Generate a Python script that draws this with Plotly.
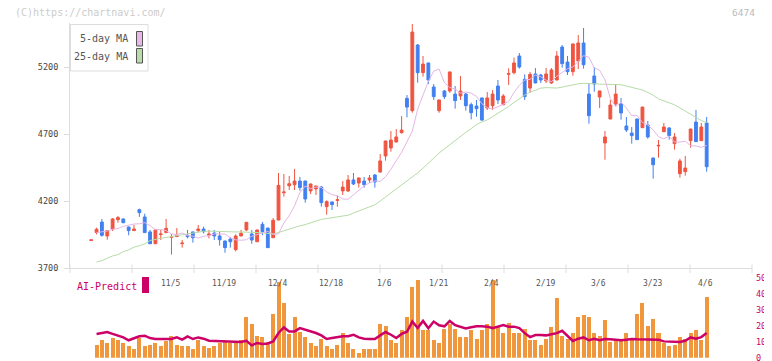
import plotly.graph_objects as go

# ---------------- data ----------------
idx = list(range(116))
tick_labels = ["11/5", "11/19", "12/4", "12/18", "1/6", "1/21", "2/4", "2/19", "3/6", "3/23", "4/6"]
tick_pos = [15, 25, 35, 45, 55, 65, 75, 85, 95, 105, 115]

opens = [3905, 3964, 4043, 3939, 3991, 4061, 4066, 4006, 3979, 4135, 4081, 3969, 3881, 3950, 3964, 3930,
         3934, 3882, 3944, 3969, 3979, 3991, 3944, 3961, 3939, 3901, 3916, 3837, 3939, 3984, 3954, 3896,
         4026, 3998, 3926, 4058, 4262, 4314, 4322, 4349, 4349, 4275, 4290, 4304, 4158, 4193, 4205, 4275,
         4275, 4357, 4334, 4349, 4357, 4394, 4416, 4536, 4596, 4640, 4710, 4966, 4874, 5364, 5158, 5230,
         5051, 4874, 5021, 5021, 4998, 4984, 4998, 4919, 4909, 4969, 4894, 4911, 5058, 4919, 5146, 5158,
         5282, 5108, 5043, 5148, 5140, 5096, 5081, 5103, 5349, 5237, 5165, 5245, 5379, 4998, 5133, 4976,
         4633, 4812, 4924, 4924, 4760, 4707, 4812, 4747, 4767, 4521, 4611, 4717, 4745, 4628, 4404, 4419,
         4650, 4789, 4650, 4782]
highs = [3910, 4001, 4066, 3979, 4073, 4088, 4070, 4008, 4021, 4143, 4105, 3984, 3986, 3984, 4066, 3954,
         3998, 3909, 3984, 3971, 4021, 4008, 3984, 3984, 3971, 3906, 3930, 3951, 3984, 4043, 3984, 3986,
         4043, 4000, 4073, 4409, 4401, 4387, 4439, 4379, 4351, 4329, 4314, 4312, 4205, 4195, 4240, 4349,
         4394, 4409, 4374, 4379, 4394, 4401, 4551, 4650, 4722, 4737, 4834, 4991, 5521, 5372, 5282, 5232,
         5073, 4956, 5028, 5165, 5058, 5133, 5008, 4934, 4954, 4971, 5013, 5028, 5103, 4998, 5190, 5270,
         5304, 5145, 5163, 5192, 5148, 5192, 5192, 5319, 5364, 5282, 5374, 5439, 5491, 5081, 5200, 5023,
         4722, 4954, 5073, 4969, 4827, 4752, 4814, 4903, 4797, 4523, 4655, 4782, 4752, 4707, 4516, 4536,
         4739, 4879, 4782, 4827]
lows = [3905, 3951, 3934, 3911, 3976, 4038, 4035, 3944, 3978, 4081, 3964, 3881, 3879, 3909, 3962, 3800,
        3932, 3852, 3921, 3889, 3964, 3959, 3921, 3909, 3867, 3814, 3852, 3824, 3937, 3976, 3881, 3894,
        3944, 3850, 3924, 4056, 4232, 4282, 4282, 4277, 4188, 4252, 4245, 4158, 4098, 4133, 4158, 4245,
        4267, 4319, 4300, 4300, 4334, 4300, 4414, 4501, 4568, 4638, 4702, 4824, 4859, 5083, 5128, 5073,
        4954, 4859, 4961, 5008, 4889, 4954, 4874, 4809, 4829, 4799, 4879, 4879, 4924, 4914, 5066, 5145,
        5188, 4954, 5008, 5079, 5081, 5081, 5073, 5101, 5195, 5140, 5135, 5185, 5188, 4777, 5016, 4894,
        4508, 4810, 4909, 4807, 4715, 4628, 4656, 4745, 4665, 4367, 4523, 4715, 4658, 4583, 4374, 4389,
        4598, 4641, 4648, 4419]
closes = [3910, 3989, 3944, 3979, 4066, 4076, 4038, 3979, 3991, 4113, 3964, 3881, 3984, 3954, 3996, 3934,
          3946, 3886, 3934, 3926, 3991, 3971, 3954, 3939, 3911, 3852, 3896, 3939, 3959, 4041, 3909, 3984,
          3971, 3852, 4056, 4317, 4267, 4329, 4349, 4300, 4215, 4327, 4312, 4188, 4195, 4173, 4209, 4304,
          4357, 4327, 4372, 4322, 4372, 4342, 4499, 4648, 4655, 4678, 4729, 4901, 5461, 5158, 5222, 5103,
          4979, 4954, 4979, 5163, 4949, 5021, 4911, 4859, 4889, 4804, 4969, 4998, 4954, 4984, 5150, 5230,
          5200, 4979, 5145, 5081, 5103, 5148, 5178, 5282, 5225, 5165, 5372, 5379, 5217, 4837, 5073, 5021,
          4678, 4916, 4998, 4857, 4730, 4688, 4658, 4901, 4678, 4471, 4615, 4752, 4688, 4678, 4499, 4446,
          4737, 4643, 4752, 4456]

ma5 = [None, 3964, 3969, 3976, 3989, 3995, 4011, 4021, 4028, 4030, 4039, 4017, 3986, 3987, 3979, 3955,
       3949, 3962, 3942, 3938, 3924, 3936, 3941, 3955, 3956, 3953, 3925, 3910, 3907, 3911, 3937, 3949,
       3966, 3973, 3951, 3954, 4036, 4092, 4164, 4263, 4312, 4292, 4304, 4301, 4268, 4247, 4239, 4215,
       4213, 4247, 4274, 4313, 4336, 4350, 4347, 4381, 4437, 4503, 4564, 4642, 4722, 4885, 4985, 5094,
       5169, 5185, 5083, 5047, 5036, 5005, 5013, 5005, 4981, 4926, 4897, 4886, 4904, 4923, 4942, 5011,
       5063, 5103, 5108, 5140, 5127, 5102, 5091, 5131, 5158, 5187, 5200, 5244, 5285, 5272, 5194, 5176,
       5105, 4965, 4905, 4937, 4894, 4836, 4838, 4786, 4767, 4731, 4679, 4664, 4683, 4640, 4640, 4646,
       4613, 4610, 4601, 4615]
ma25 = [None, 3745, 3755, 3773, 3790, 3800, 3822, 3835, 3856, 3866, 3880, 3905, 3916, 3922, 3928, 3935,
        3942, 3948, 3955, 3962, 3968, 3974, 3975, 3973, 3970, 3970, 3969, 3969, 3969, 3968, 3967, 3965,
        3963, 3958, 3954, 3965, 3978, 3993, 4006, 4015, 4024, 4035, 4050, 4063, 4070, 4078, 4084, 4089,
        4094, 4110, 4125, 4140, 4155, 4172, 4200, 4230, 4255, 4288, 4320, 4350, 4378, 4410, 4445, 4480,
        4520, 4558, 4590, 4620, 4652, 4685, 4712, 4740, 4770, 4790, 4805, 4830, 4855, 4878, 4905, 4935,
        4965, 4990, 5012, 5030, 5042, 5046, 5045, 5043, 5050, 5060, 5070, 5075, 5078, 5078, 5075, 5072,
        5071, 5070, 5069, 5068, 5058, 5048, 5038, 5028, 5010, 4990, 4962, 4948, 4935, 4918, 4895, 4870,
        4845, 4825, 4800, 4785]

volume = [None, 8.2, 11.2, 9.3, 12.8, 11.8, 9.3, 7.6, 5.5, 12.8, 8.0, 8.6, 9.3, 8.0, 10.7, 14.3,
          8.6, 7.4, 7.4, 6.1, 11.8, 8.0, 6.7, 8.0, 9.3, 10.5, 9.3, 10.3, 11.2, 26.3, 21.3, 14.3,
          13.1, 10.5, 27.6, 47.8, 34.7, 15.0, 25.7, 16.8, 13.1, 9.9, 7.4, 12.4, 8.0, 5.5, 8.6, 16.2,
          9.3, 5.5, 3.6, 6.1, 6.1, 6.1, 21.9, 20.6, 11.2, 9.9, 17.5, 25.7, 45.2, 49.6, 17.5, 18.1,
          11.2, 9.3, 18.7, 21.3, 18.7, 13.7, 13.1, 17.5, 12.4, 17.5, 21.3, 49.6, 19.4, 16.2, 22.5, 16.2,
          16.2, 18.7, 11.2, 11.8, 8.6, 12.4, 20.0, 38.3, 14.3, 12.4, 15.6, 26.3, 27.0, 26.3, 15.6, 14.3,
          24.4, 10.5, 12.4, 12.4, 16.2, 12.4, 28.2, 35.1, 20.6, 25.0, 16.2, 9.9, 7.4, 8.6, 13.1, 12.4,
          16.2, 18.1, 11.8, 38.9]
ai_predict = [None, 15.0, 15.6, 16.2, 15.0, 14.1, 12.8, 11.0, 12.4, 13.5, 13.9, 12.4, 11.8, 11.8, 11.8, 11.8,
              12.8, 11.4, 13.5, 11.8, 12.8, 12.0, 10.7, 10.5, 10.5, 10.1, 10.1, 9.9, 9.9, 10.7, 7.8, 9.3,
              8.6, 9.0, 10.3, 15.6, 19.1, 16.6, 16.6, 18.7, 17.7, 16.6, 15.6, 14.1, 11.8, 12.4, 13.1, 13.5,
              13.5, 14.5, 12.8, 12.0, 11.8, 11.8, 14.1, 16.2, 14.5, 12.4, 15.0, 16.4, 22.8, 18.7, 23.2, 18.6,
              22.8, 20.5, 19.8, 23.2, 20.5, 19.2, 18.4, 19.2, 19.8, 19.8, 19.6, 18.7, 19.8, 20.6, 19.6, 19.6,
              18.7, 15.5, 13.0, 14.3, 14.3, 14.1, 14.8, 15.5, 17.0, 14.1, 10.6, 12.0, 12.8, 11.0, 12.0, 11.0,
              11.8, 11.6, 11.4, 11.0, 11.4, 11.8, 11.6, 11.6, 11.4, 11.4, 11.4, 10.3, 10.3, 10.3, 9.9, 10.7,
              12.8, 12.0, 13.0, 15.6]

price_ticks = [3700, 4200, 4700, 5200]
vol_ticks = [0, 10, 20, 30, 40, 50]

# ---------------- styling / layout helpers ----------------
W, H = 772, 361
OFF = 8            # the page body adds an 8px offset
L = 70 - OFF
PW = 682
R = W - L - PW
MONO = "DejaVu Sans Mono"
RED = "#f05541"
BLUE = "#4080f0"
PINK = "#e6b6e6"
GREEN = "#b6dca6"
MAGENTA = "#cc0066"
ORANGE = "#f0963c"


def px(xp):
    return (xp - OFF - L) / PW


def py(yp):
    return 1 - (yp - OFF) / H


fig = go.Figure()
fig.add_trace(go.Scatter(x=idx, y=ma25, mode="lines", line=dict(color=GREEN, width=1),
                         hoverinfo="skip", connectgaps=False))
fig.add_trace(go.Scatter(x=idx, y=ma5, mode="lines", line=dict(color=PINK, width=1),
                         hoverinfo="skip", connectgaps=False))
fig.add_trace(go.Candlestick(
    x=idx, open=opens, high=highs, low=lows, close=closes,
    increasing=dict(fillcolor=RED, line=dict(color=RED, width=1)),
    decreasing=dict(fillcolor=BLUE, line=dict(color=BLUE, width=1)),
    whiskerwidth=0,
))
fig.add_trace(go.Bar(x=idx, y=volume, marker=dict(color=ORANGE, line=dict(width=0)),
                     width=0.75, xaxis="x2", yaxis="y2"))
fig.add_trace(go.Scatter(x=idx, y=ai_predict, mode="lines", line=dict(color=MAGENTA, width=2.5),
                         xaxis="x2", yaxis="y2"))

shapes = []
# bottom axis tick marks (11 equal intervals)
for k in range(12):
    shapes.append(dict(type="line", xref="x domain", yref="paper", x0=k / 11, x1=k / 11,
                       y0=py(264.5), y1=py(273), line=dict(color="#dddddd", width=1)))
# legend box
shapes.append(dict(type="rect", xref="paper", yref="paper", x0=px(70.5), x1=px(148), y0=py(71), y1=py(24.5),
                   line=dict(color="#dddddd", width=1), fillcolor="white", layer="above"))
shapes.append(dict(type="rect", xref="paper", yref="paper", x0=px(136.5), x1=px(142.5), y0=py(46), y1=py(31.5),
                   line=dict(color="#555555", width=1), fillcolor="#e8b8e8", layer="above"))
shapes.append(dict(type="rect", xref="paper", yref="paper", x0=px(136.5), x1=px(142.5), y0=py(63), y1=py(48.5),
                   line=dict(color="#555555", width=1), fillcolor="#b8dcaa", layer="above"))
# AI-Predict marker
shapes.append(dict(type="rect", xref="paper", yref="paper", x0=px(142), x1=px(149), y0=py(293), y1=py(277),
                   line=dict(width=0), fillcolor=MAGENTA, layer="above"))

annotations = [
    dict(text="5-day MA", x=px(130), y=py(39), xref="paper", yref="paper", xanchor="right", yanchor="middle",
         showarrow=False, font=dict(family=MONO, size=10, color="#555555")),
    dict(text="25-day MA", x=px(130), y=py(56), xref="paper", yref="paper", xanchor="right", yanchor="middle",
         showarrow=False, font=dict(family=MONO, size=10, color="#555555")),
    dict(text="AI-Predict", x=px(75), y=py(286), xref="paper", yref="paper", xanchor="left", yanchor="middle",
         showarrow=False, font=dict(family=MONO, size=10, color=MAGENTA)),
    dict(text="(C)https://chartnavi.com/", x=px(13), y=py(12.5), xref="paper", yref="paper", xanchor="left",
         yanchor="middle", showarrow=False, font=dict(family=MONO, size=10, color="#cccccc")),
    dict(text="6474", x=px(757), y=py(12.5), xref="paper", yref="paper", xanchor="right",
         yanchor="middle", showarrow=False, font=dict(family=MONO, size=9.5, color="#bbbbbb")),
]
for lbl, pos in zip(tick_labels, tick_pos):
    annotations.append(dict(text=lbl, x=pos - 0.2, y=py(283.5), xref="x", yref="paper", xanchor="center",
                            yanchor="middle", showarrow=False,
                            font=dict(family=MONO, size=8, color="#555555")))

fig.update_layout(
    width=W, height=H,
    margin=dict(l=L, r=R, t=0, b=0, autoexpand=False),
    paper_bgcolor="white", plot_bgcolor="white",
    showlegend=False,
    boxgap=0.25,
    bargap=0,
    xaxis=dict(domain=[0, 1], range=[-3.96, 123.47], anchor="y", showline=True, linecolor="#dddddd",
               linewidth=1, showticklabels=False, ticks="", showgrid=False, zeroline=False,
               rangeslider=dict(visible=False), fixedrange=True, automargin=False),
    yaxis=dict(domain=[py(268), py(23)], range=[3700, 3700 + 245 * 500 / 67], tickvals=price_ticks,
               ticks="outside", ticklen=5, tickcolor="#dddddd", showline=True, linecolor="#dddddd",
               linewidth=1, showgrid=False, zeroline=False, ticklabelstandoff=4, automargin=False,
               tickfont=dict(family=MONO, size=8.5, color="#444444")),
    xaxis2=dict(domain=[0, 1], anchor="y2", matches="x", visible=False, showgrid=False, zeroline=False,
                automargin=False),
    yaxis2=dict(domain=[py(357.7), py(278.5)], range=[0, 50], anchor="x2", side="right", tickvals=vol_ticks,
                ticks="", showline=False, showgrid=False, zeroline=False, ticklabelstandoff=3,
                automargin=False, tickfont=dict(family=MONO, size=8.5, color=MAGENTA)),
    shapes=shapes,
    annotations=annotations,
)

fig.write_html("out.html")
